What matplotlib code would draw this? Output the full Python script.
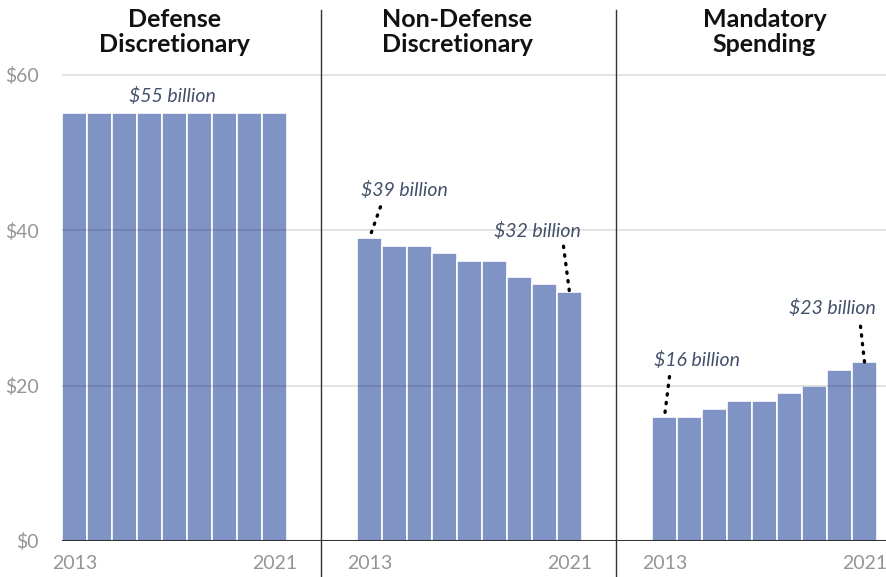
import matplotlib.pyplot as plt
import numpy as np

plt.rcParams['font.family'] = ['Lato', 'DejaVu Sans']

panels = ['Defense\nDiscretionary', 'Non-Defense\nDiscretionary', 'Mandatory\nSpending']
years = list(range(2013, 2022))
defense = [55, 55, 55, 55, 55, 55, 55, 55, 55]
non_defense = [39, 38, 38, 37, 36, 36, 34, 33, 32]
mandatory = [16, 16, 17, 18, 18, 19, 20, 22, 23]
series = [defense, non_defense, mandatory]
yticks = [0, 20, 40, 60]

bar_color = '#7f93c4'
gray = '#959595'
note_color = '#44516a'

# panel layout in bar slots (one slot = one bar width)
panel_step = 11.8
divider_at = 10.36

fig = plt.figure(figsize=(8.86, 5.77), dpi=100)
ax = fig.add_axes([62 / 886, 1 - 541 / 577, 1 - 62 / 886, 531 / 577])
ax.set_xlim(0, (886 - 62) / 25)
ax.set_ylim(0, 68.3)

# grid sits over the bars, faintly
for y in yticks[1:]:
    ax.axhline(y, color='black', alpha=0.13, lw=1.2, zorder=3)

for p, vals in enumerate(series):
    x0 = p * panel_step
    xs = x0 + np.arange(len(vals)) + 0.5
    ax.bar(xs, vals, width=1, color=bar_color, edgecolor='white', linewidth=1.2, zorder=2)
    # years under first and last bars
    ax.text(xs[0], -1.8, str(years[0]), ha='center', va='top', color=gray, fontsize=14)
    ax.text(xs[-1], -1.8, str(years[-1]), ha='center', va='top', color=gray, fontsize=14)

# panel titles
title_x = [4.5, 15.8, 28.1]
for tx, t in zip(title_x, panels):
    ax.text(tx, 68.3 + 0.3, t, ha='center', va='top', fontsize=18, fontweight='bold',
            color='#111111', linespacing=1.1, clip_on=False)

# dividers between panels
for k in range(2):
    xd = divider_at + k * panel_step
    ax.plot([xd, xd], [-4.7, 68.3], color='#333333', lw=1, clip_on=False, zorder=3)

ax.axhline(0, color='#333333', lw=2.2, zorder=4)

# annotations: (panel, bar index, line start offset, text offset) in pixels
notes = [
    (1, 0, (11, 31), (35, 48)),
    (1, 8, (-6, 46), (-32, 61)),
    (2, 0, (5, 40), (32, 57)),
    (2, 8, (-4, 36), (-32, 54)),
]
for p, i, lo, to in notes:
    x = p * panel_step + i + 0.5
    v = series[p][i]
    ax.annotate('', xy=(x, v), xytext=lo, textcoords='offset pixels',
                arrowprops=dict(arrowstyle='-', linestyle=(0, (0.4, 2.2)), lw=2.4, color='black',
                                capstyle='round', shrinkA=0, shrinkB=0), zorder=5)
    ax.annotate('$%d billion' % v, xy=(x, v), xytext=to, textcoords='offset pixels',
                ha='center', va='center', style='italic', fontsize=14, color=note_color)

ax.annotate('$%d billion' % defense[0], xy=(4.5, defense[0]), xytext=(-2, 17),
            textcoords='offset pixels', ha='center', va='center', style='italic',
            fontsize=14, color=note_color)

ax.set_yticks(yticks)
ax.set_yticklabels(['$%d' % y for y in yticks], color=gray, fontsize=14)
ax.tick_params(axis='y', length=0, pad=17)
ax.set_xticks([])
for s in ax.spines.values():
    s.set_visible(False)

fig.savefig('out.png', dpi=100)
